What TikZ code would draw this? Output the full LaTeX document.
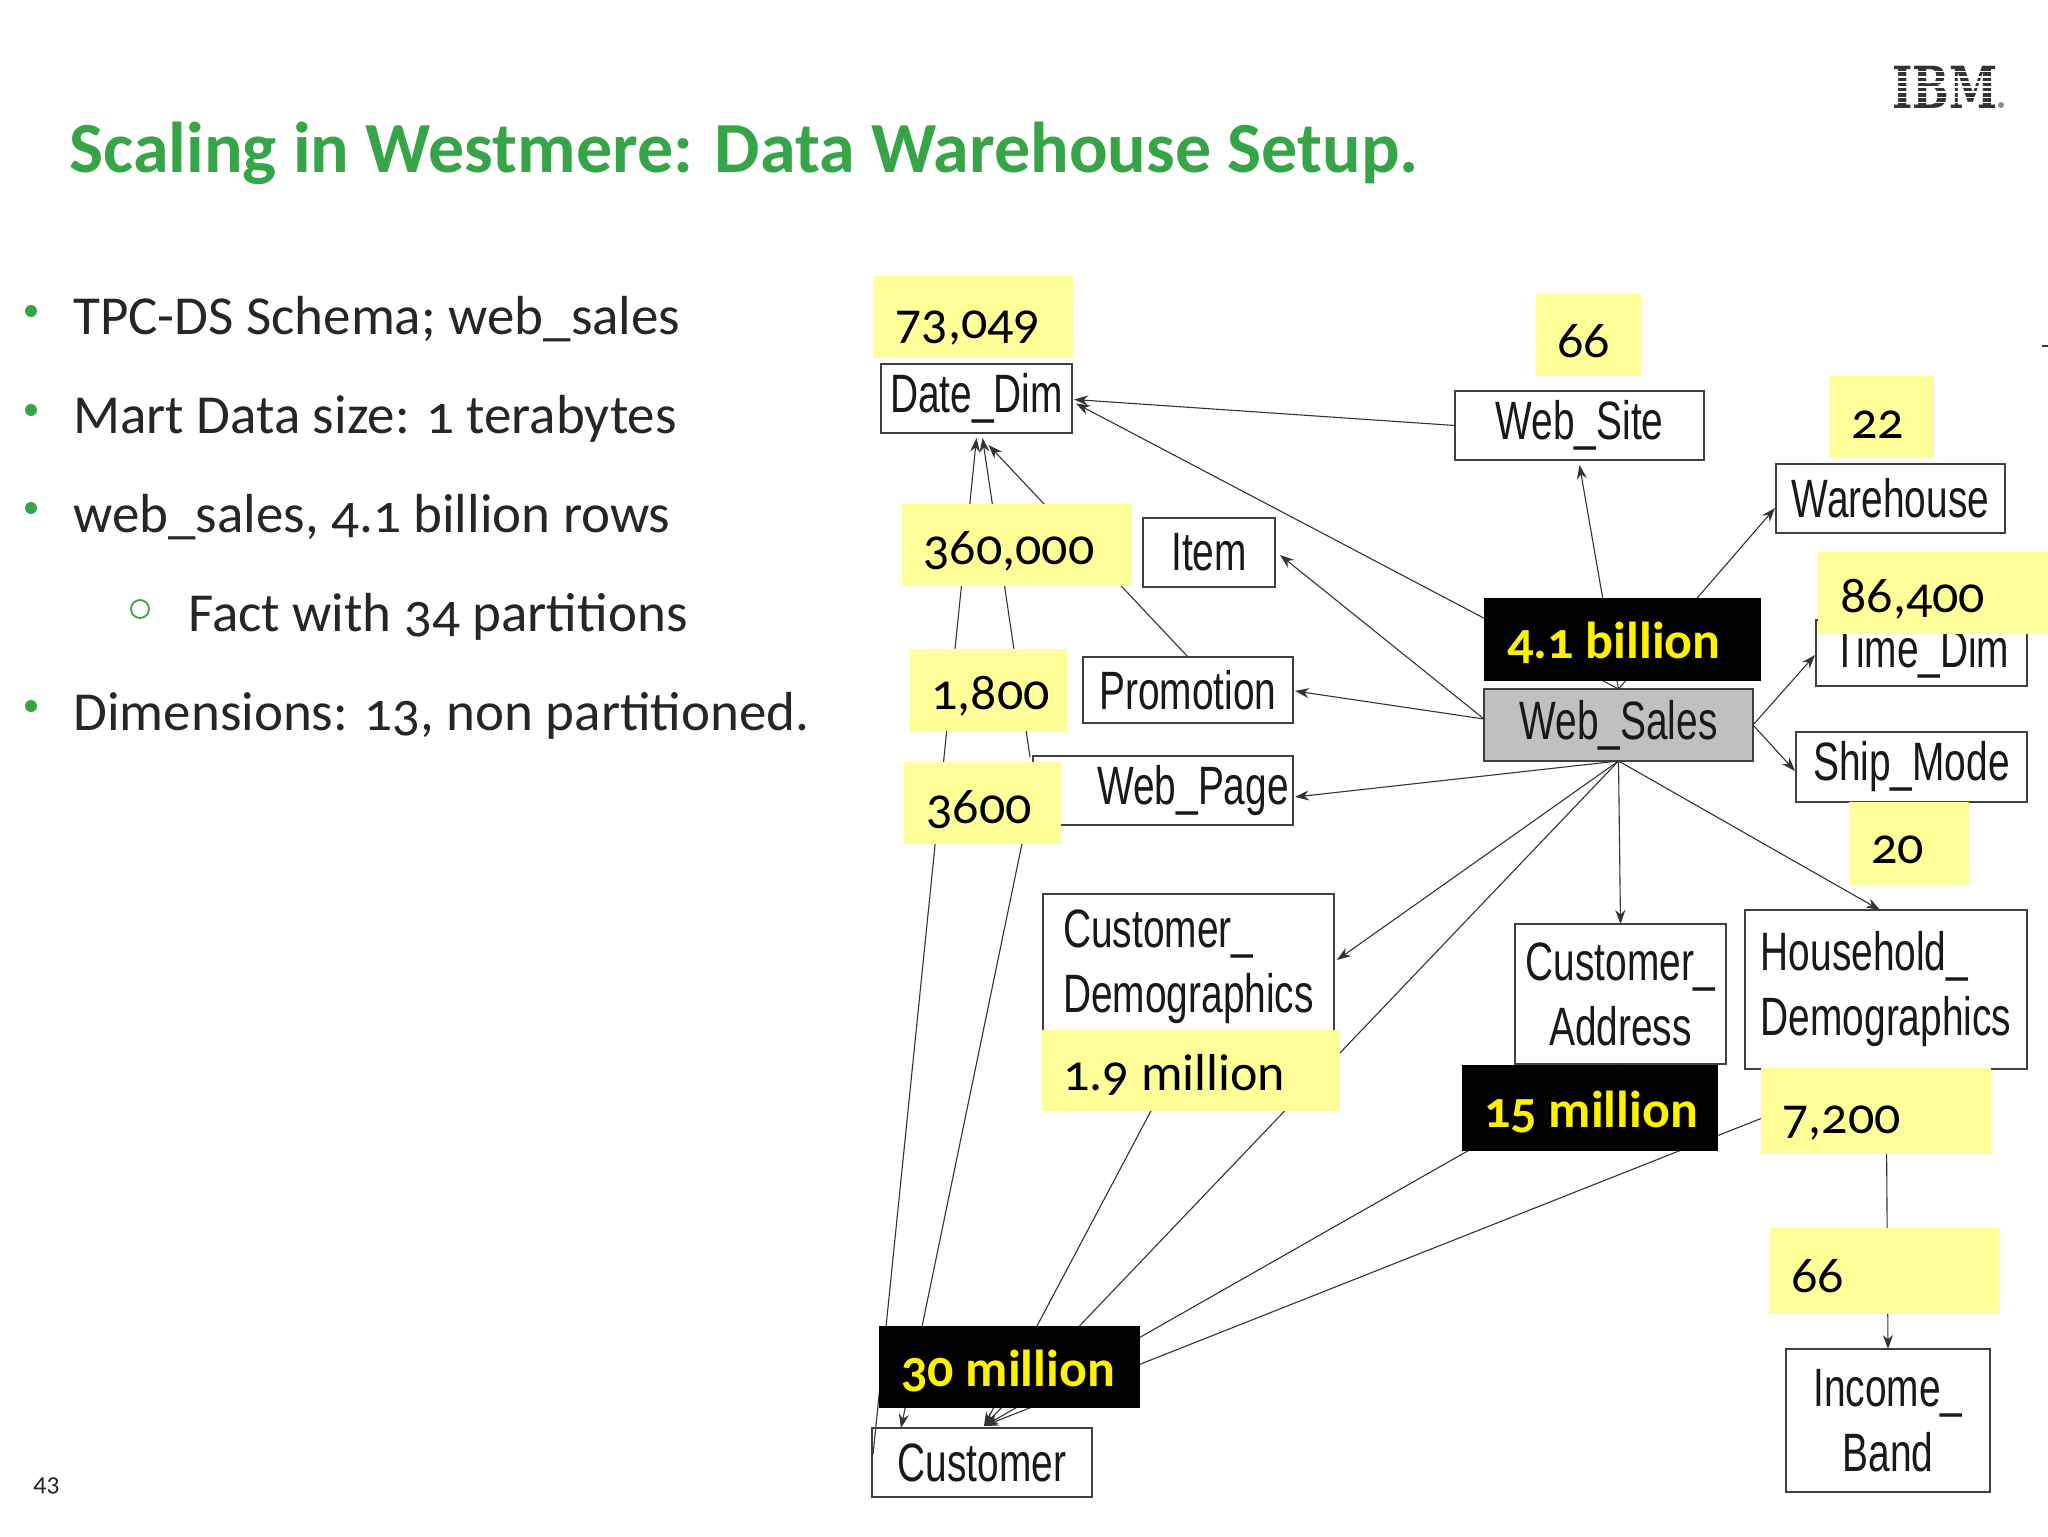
\documentclass[tikz,border=0pt]{standalone}
\usepackage{fontspec}
\usetikzlibrary{calc,arrows.meta}
\setmainfont[Numbers=OldStyle]{Carlito}
\newfontfamily\boxfont[FakeStretch=0.72]{Liberation Sans}
\newfontfamily\logofont[FakeStretch=0.75]{DejaVu Serif}
\definecolor{gr}{HTML}{36A547}
\definecolor{ly}{HTML}{FFFF99}
\definecolor{bt}{HTML}{111111}
\tikzset{
  tbl/.style={draw=black!75,line width=1pt,fill=white,inner sep=0pt,outer sep=0pt,text=black!90,
     font=\boxfont\fontsize{27}{32.5}\selectfont,align=center},
  labrect/.style={fill=ly,inner sep=0pt,outer sep=0pt},
  blackrect/.style={fill=black,inner sep=0pt,outer sep=0pt},
  labtext/.style={anchor=base west,inner sep=0pt,text=black,font=\fontsize{26}{30}\selectfont},
  blacktext/.style={anchor=base west,inner sep=0pt,text=yellow,font=\bfseries\fontsize{26}{30}\selectfont},
  conn/.style={draw=black!80,line width=0.55pt,-{Stealth[length=7pt,width=5pt]}},
  bodytext/.style={anchor=base west,inner sep=0pt,text=black!85,font=\fontsize{27.5}{32}\selectfont},
  dot/.style={circle,fill=gr,inner sep=0pt,minimum size=6pt},
  ring/.style={circle,draw=gr,line width=0.9pt,inner sep=0pt,minimum size=9pt}
}
% name, x1,y1,x2,y2, text, extra style
\newcommand{\tb}[7][]{\node[tbl,#1,minimum width={0.5pt*(#5-#3)},minimum height={0.5pt*(#6-#4)}] (#2) at ({(#3+#5)/2},{(#4+#6)/2}) {#7};}
% style, name, x1,y1,x2,y2, tx,ty, text
\newcommand{\lb}[8]{\node[labrect,minimum width={0.5pt*(#4-#2)},minimum height={0.5pt*(#5-#3)}] (#1) at ({(#2+#4)/2},{(#3+#5)/2}) {};
  \node[labtext] (#1t) at (#6,#7) {#8};}
\newcommand{\bk}[8]{\node[blackrect,minimum width={0.5pt*(#4-#2)},minimum height={0.5pt*(#5-#3)}] (#1) at ({(#2+#4)/2},{(#3+#5)/2}) {};
  \node[blacktext] (#1t) at (#6,#7) {#8};}
\begin{document}
\begin{tikzpicture}[x=0.5pt,y=-0.5pt]
\useasboundingbox[fill=white] (0,0) rectangle (2048,1536);
% title and text
\node[anchor=base west,inner sep=0pt,text=gr,font=\bfseries\fontsize{36}{40}\selectfont] (title) at (69,172) {Scaling in Westmere: Data Warehouse Setup.};
\node[dot] (b1) at (31,311) {};
\node[bodytext] (t1) at (73,334) {TPC-DS Schema; web\_sales};
\node[dot] (b2) at (31,410) {};
\node[bodytext] (t2) at (73,433) {Mart Data size: 1 terabytes};
\node[dot] (b3) at (31,508) {};
\node[bodytext] (t3) at (73,532) {web\_sales, 4.1 billion rows};
\node[ring] (b4) at (140,609) {};
\node[bodytext] (t4) at (188,631) {Fact with 34 partitions};
\node[dot] (b5) at (31,706) {};
\node[bodytext] (t5) at (73,730) {Dimensions: 13, non partitioned.};
\node[anchor=base west,inner sep=0pt,text=black!85,font=\fontsize{13}{15}\selectfont] (pg) at (33,1491) {43};
% logo
\node[inner sep=0pt,text=black!80,font=\logofont\bfseries\fontsize{29}{30}\selectfont] (ibm) at (1945,87) {IBM};
\foreach \yy in {71.5,77,82,87,92,97.5,102.5}{\draw[white,line width=0.8pt] (1885,\yy) -- (2005,\yy);}
\node[circle,fill=black!45,inner sep=0pt,minimum size=3pt] (reg) at (2001,105) {};
\draw[black!80,line width=1pt] (2042,346) -- (2048,346);
% tables
\tb{DD}{881}{364}{1072}{433}{Date\_Dim}
\tb{WSite}{1455}{391}{1704}{460}{Web\_Site}
\tb{WH}{1776}{464}{2005}{533}{Warehouse}
\tb{TD}{1816}{620}{2027}{686}{Time\_Dim}
\tb{SM}{1796}{732}{2027}{802}{Ship\_Mode}
\tb{Item}{1143}{518}{1275}{587}{Item}
\tb{Prom}{1083}{657}{1293}{723}{Promotion}
\tb{WP}{1033}{756}{1293}{825}{\hspace{30pt}Web\_Page}
\tb[fill={rgb,255:red,192;green,191;blue,194}]{WS}{1484}{689}{1753}{761}{Web\_Sales}
\tb[align=left]{CD}{1043}{894}{1334}{1040}{Customer\_\\Demographics}
\tb{CA}{1515}{924}{1726}{1064}{Customer\_\\Address}
\tb[align=left]{HH}{1745}{910}{2027}{1069}{Household\_\\Demographics}
\tb{IB}{1786}{1349}{1990}{1492}{Income\_\\Band}
\tb{Cust}{872}{1428}{1092}{1497}{Customer}
% connectors
\draw[conn] (WS.north) -- ($(DD.east)+(4,5)$);
\draw[conn] (WS.north) -- ($(WSite.south)+(0,5)$);
\draw[conn] (WS.north) -- ($(WH.west)+(-1,9.5)$);
\draw[conn] (WSite.west) -- ($(DD.east)+(2,1)$);
\draw[conn] ($(WS.west)+(0,-6)$) -- ($(Item.east)+(5,2.5)$);
\draw[conn] ($(WS.west)+(0,-6)$) -- ($(Prom.east)+(2,1)$);
\draw[conn] (WS.south) -- ($(WP.east)+(2,6.5)$);
\draw[conn] (WS.south) -- ($(CD.east)+(3,-7)$);
\draw[conn] (WS.south) -- ($(Cust.north)+(2,-2)$);
\draw[conn] (WS.south) -- (CA.north);
\draw[conn] (WS.south) -- ($(HH.north)+(-6,0)$);
\draw[conn] (WS.east) -- ($(TD.west)+(-1,2)$);
\draw[conn] (WS.east) -- ($(SM.west)+(-1,4)$);
\draw[conn] (CD.south) -- ($(Cust.north)+(2,-2)$);
\draw[conn] (CA.south) -- ($(Cust.north)+(2,-2)$);
\draw[conn] (HH.south) -- ($(Cust.north)+(2,-2)$);
\draw[conn] (HH.south) -- (IB.north);
\draw[conn] ($(Cust.west)+(1,-8)$) -- ($(DD.south)+(0,5)$);
\draw[conn] ($(WP.north west)+(-3,1)$) -- ($(DD.south)+(6,5)$);
\draw[conn] (Prom.north) -- ($(DD.south)+(12,12)$);
\draw[conn] (WP.west) -- ($(Cust.north west)+(29,0)$);
% row counts
\lb{n1}{873}{276}{1073}{358}{895}{338}{73,049}
\lb{n2}{1536}{294}{1641}{376}{1557}{357}{66}
\lb{n3}{1829}{376}{1934}{458}{1851}{438}{22}
\lb{n4}{902}{504}{1132}{586}{923}{564}{360,000}
\lb{n5}{1818}{552}{2048}{634}{1840}{612}{86,400}
\lb{n6}{910}{649}{1067}{731}{931}{709}{1,800}
\lb{n7}{904}{762}{1061}{844}{926}{823}{3600}
\lb{n8}{1849}{802}{1969}{885}{1871}{863}{20}
\lb{n9}{1042}{1030}{1340}{1111}{1063}{1090}{1.9 million}
\lb{n10}{1761}{1068}{1991}{1154}{1782}{1133}{7,200}
\lb{n11}{1769}{1228}{2000}{1314}{1791}{1292}{66}
\bk{k1}{1484}{598}{1761}{681}{1507}{658}{4.1 billion}
\bk{k2}{1462}{1065}{1718}{1151}{1484}{1127}{15 million}
\bk{k3}{879}{1326}{1140}{1408}{901}{1386}{30 million}
\end{tikzpicture}
\end{document}
